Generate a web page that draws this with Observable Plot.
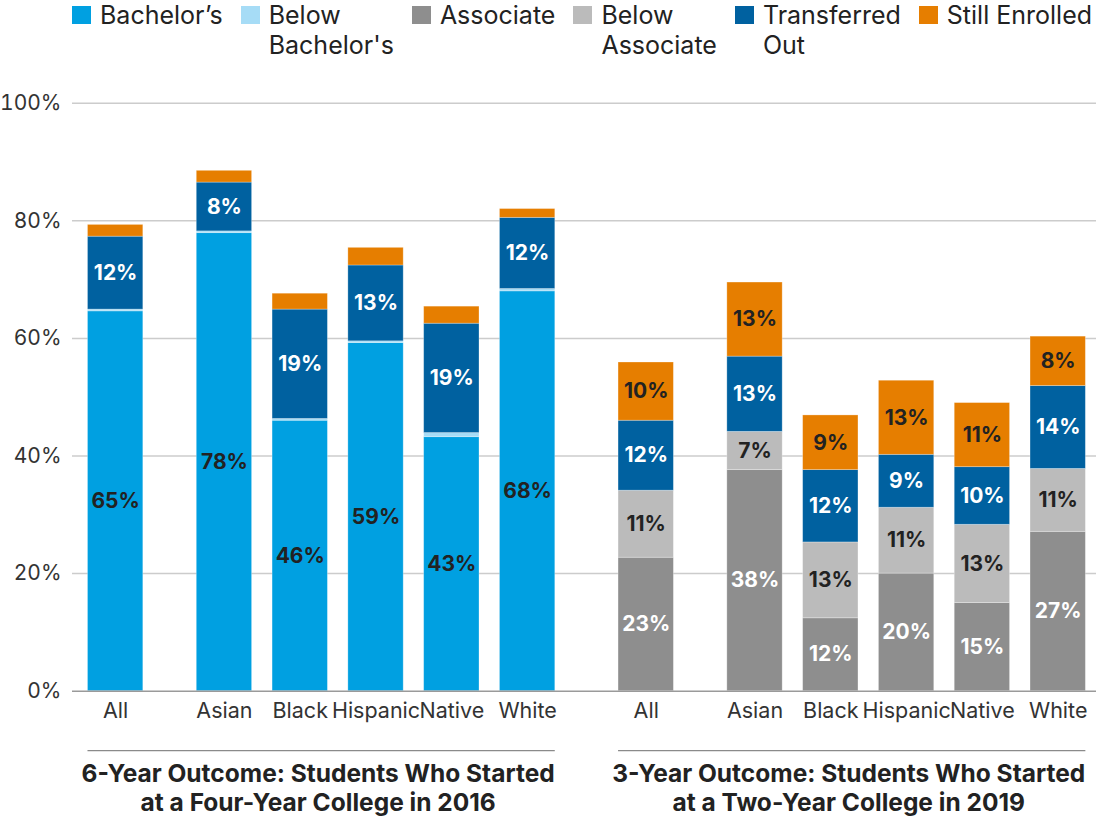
<!DOCTYPE html>
<html><head><meta charset="utf-8">
<script src="https://cdn.jsdelivr.net/npm/d3@7"></script>
<script src="https://cdn.jsdelivr.net/npm/@observablehq/plot@0.6"></script>
<style>
body{margin:0;background:#fff;font-family:Inter,"Noto Sans",sans-serif;color:#222;}
#wrap{position:relative;width:1096px;height:821px;overflow:hidden;background:#fff}
#legend{display:flex;gap:18px;padding-left:72px;height:70px;font-size:25px;line-height:30px;color:#222;box-sizing:border-box}
.item{display:flex;align-items:flex-start;white-space:nowrap}
.sw{width:19px;height:18px;margin-top:6px;margin-right:9px;flex:none}
</style></head><body><div id="wrap"><div id="legend"></div><div id="chart"></div></div>
<script>
// ---- data ----
const categories = ["All", "Asian", "Black", "Hispanic", "Native", "White"];
const groupKeys = ["6", "3"];
const groupTitles = [
  ["6-Year Outcome: Students Who Started", "at a Four-Year College in 2016"],
  ["3-Year Outcome: Students Who Started", "at a Two-Year College in 2019"]
];
const outcomeTypes = ["Bachelor's", "Below Bachelor's", "Associate", "Below Associate", "Transferred Out", "Still Enrolled"];
const legendLabels = [["Bachelor’s"], ["Below", "Bachelor's"], ["Associate"], ["Below", "Associate"], ["Transferred", "Out"], ["Still Enrolled"]];
const colors = ["#00a0e1", "#a6dcf6", "#8e8e8e", "#bbbbbb", "#0061a0", "#e67e00"];

// 6-year outcome, four-year college starters (2016)
const bachelors       = [64.6, 77.9, 46.0, 59.2, 43.2, 68.0];
const belowBachelors  = [0.3, 0.3, 0.3, 0.3, 0.7, 0.4];
const transferred4    = [12.4, 8.3, 18.6, 12.9, 18.6, 12.1];
const enrolled4       = [2.0, 2.0, 2.7, 3.0, 2.9, 1.5];
// 3-year outcome, two-year college starters (2019)
const associate       = [22.7, 37.6, 12.4, 20.0, 15.0, 27.1];
const belowAssociate  = [11.4, 6.5, 12.9, 11.2, 13.3, 10.7];
const transferred2    = [11.9, 12.8, 12.3, 9.0, 9.8, 14.1];
const enrolled2       = [9.9, 12.6, 9.3, 12.6, 10.9, 8.4];

const yTicks = [0, 20, 40, 60, 80, 100];
const whiteLabelTypes = ["Transferred Out", "Associate"];
const darkLabelTypes = ["Bachelor's", "Below Associate", "Still Enrolled"];

// ---- build table ----
const rows = [];
categories.forEach((c, i) => {
  const k6 = "6|" + c, k3 = "3|" + c;
  rows.push({key: k6, cat: c, type: "Bachelor's", value: bachelors[i]});
  rows.push({key: k6, cat: c, type: "Below Bachelor's", value: belowBachelors[i]});
  rows.push({key: k6, cat: c, type: "Transferred Out", value: transferred4[i]});
  rows.push({key: k6, cat: c, type: "Still Enrolled", value: enrolled4[i]});
  rows.push({key: k3, cat: c, type: "Associate", value: associate[i]});
  rows.push({key: k3, cat: c, type: "Below Associate", value: belowAssociate[i]});
  rows.push({key: k3, cat: c, type: "Transferred Out", value: transferred2[i]});
  rows.push({key: k3, cat: c, type: "Still Enrolled", value: enrolled2[i]});
});
const xDomain = [...categories.map(c => "6|" + c), "gap", ...categories.map(c => "3|" + c)];
const allShift = -33;

// ---- legend ----
const legend = document.getElementById("legend");
outcomeTypes.forEach((t, i) => {
  const it = document.createElement("div"); it.className = "item";
  const sw = document.createElement("div"); sw.className = "sw"; sw.style.background = colors[i];
  const tx = document.createElement("div");
  tx.innerHTML = legendLabels[i].map(s => `<div>${s}</div>`).join("");
  it.appendChild(sw); it.appendChild(tx); legend.appendChild(it);
});

// ---- marks ----
const fmt = d => Math.round(d.value) + "%";
function layer(data, dx) {
  return [
    Plot.barY(data, {x: "key", y: "value", fill: "type", order: outcomeTypes, dx, stroke: "white", strokeOpacity: 0.35, strokeWidth: 0.8}),
    Plot.text(data, Plot.stackY({x: "key", y: "value", z: "type", order: outcomeTypes, dx,
      text: d => (d.value >= 5 && whiteLabelTypes.includes(d.type)) ? fmt(d) : null,
      fill: "white", fontWeight: 700, fontSize: 21})),
    Plot.text(data, Plot.stackY({x: "key", y: "value", z: "type", order: outcomeTypes, dx,
      text: d => (d.value >= 5 && darkLabelTypes.includes(d.type)) ? fmt(d) : null,
      fill: "#222", fontWeight: 700, fontSize: 21}))
  ];
}
const allRows = rows.filter(d => d.cat === "All");
const restRows = rows.filter(d => d.cat !== "All");

const plot = Plot.plot({
  width: 1096,
  height: 751,
  marginTop: 32.7,
  marginBottom: 130.3,
  marginLeft: 72,
  marginRight: 0,
  style: {fontFamily: "Inter, 'Noto Sans', sans-serif", fontSize: "20px", color: "#333", background: "white"},
  x: {type: "band", domain: xDomain, paddingInner: 0.27, paddingOuter: 0.39, align: 0.82, round: false},
  y: {domain: [0, 100]},
  color: {domain: outcomeTypes, range: colors},
  marks: [
    Plot.gridY({ticks: yTicks.filter(t => t > 0), stroke: "#cccccc", strokeOpacity: 1, strokeWidth: 1.5}),
    Plot.axisY({ticks: yTicks, tickFormat: d => d + "%", tickSize: 0, tickPadding: 11, fontSize: 21, label: null}),
    ...layer(restRows, 0),
    ...layer(allRows, allShift),
    Plot.ruleY([0], {stroke: "#9a9a9a", strokeWidth: 1.5}),
    Plot.axisX({ticks: xDomain.filter(k => k !== "gap" && !k.endsWith("|All")), tickFormat: k => k.split("|")[1], tickSize: 0, tickPadding: 12, fontSize: 21.5, label: null}),
    Plot.axisX({ticks: xDomain.filter(k => k.endsWith("|All")), tickFormat: k => k.split("|")[1], tickSize: 0, tickPadding: 12, fontSize: 21.5, dx: allShift, label: null})
  ]
});
document.getElementById("chart").appendChild(plot);

// ---- group brackets & titles (positioned from the plot's scales) ----
const xs = plot.scale("x"), ys = plot.scale("y");
const y0 = ys.apply(0);
const svg = d3.select(plot);
groupKeys.forEach((g, i) => {
  const left = xs.apply(g + "|All") + allShift;
  const right = xs.apply(g + "|White") + xs.bandwidth;
  const cx = (left + right) / 2;
  svg.append("line").attr("x1", left).attr("x2", right).attr("y1", y0 + 60).attr("y2", y0 + 60)
    .attr("stroke", "#8a8a8a").attr("stroke-width", 1.2);
  groupTitles[i].forEach((line, j) => {
    svg.append("text").attr("x", cx - 3).attr("y", y0 + 91 + j * 29.3)
      .attr("text-anchor", "middle").attr("font-weight", 700).attr("font-size", 24.5)
      .attr("fill", "#222").text(line);
  });
});
</script></body></html>
